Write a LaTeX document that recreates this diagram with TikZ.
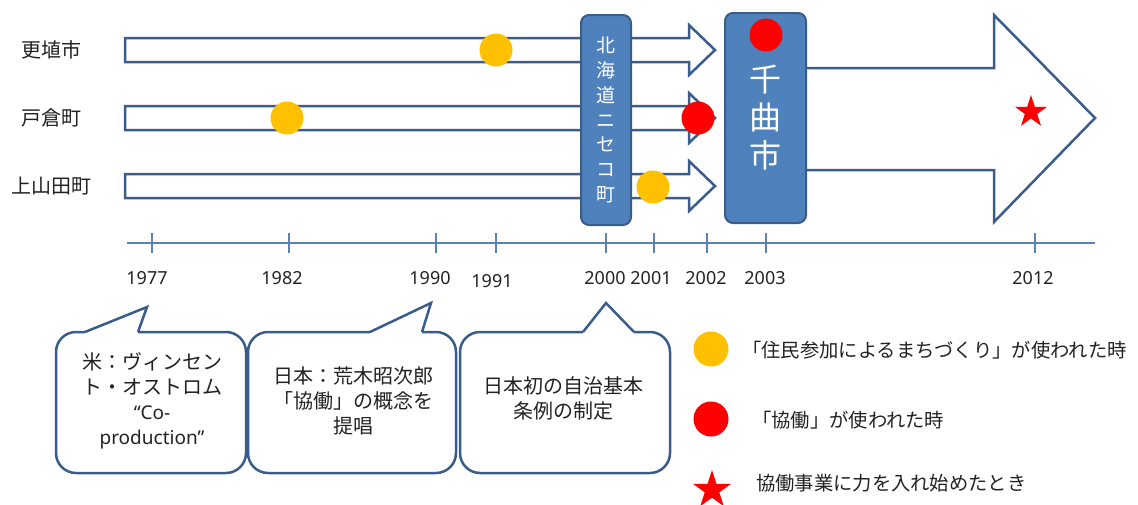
\documentclass[tikz,border=0pt]{standalone}
\usepackage{fontspec}
\setmainfont{Noto Sans CJK JP}
\newfontfamily\latinfont{Noto Sans}
\usetikzlibrary{shapes.geometric}
\definecolor{barline}{HTML}{3B5D8C}
\definecolor{boxfill}{HTML}{4F81BD}
\definecolor{boxline}{HTML}{385D8A}
\definecolor{axisblue}{HTML}{5A80B6}
\definecolor{dotyellow}{HTML}{FFC000}
\definecolor{txt}{HTML}{222222}
\begin{document}
\begin{tikzpicture}[x=1pt,y=-1pt,
  bararrow/.style={draw=barline, line width=2.5pt, fill=white, line join=miter},
  dot/.style={circle, minimum size=33pt, inner sep=0pt, draw=none},
  yeldot/.style={dot, fill=dotyellow},
  reddot/.style={dot, fill=red},
  redstar/.style={star, star points=5, star point ratio=2.618, fill=red, draw=none, inner sep=0pt},
  townbox/.style={draw=boxline, line width=2pt, fill=boxfill, rounded corners=8pt, text=white, align=center, inner sep=0pt},
  bubble/.style={draw=boxline, line width=2.5pt, fill=white, rounded corners=20pt},
  bubbletip/.style={draw=boxline, line width=2.5pt, line join=miter},
  jtext/.style={font=\fontsize{20}{25}\selectfont, text=txt, align=center, inner sep=0pt},
  yeartext/.style={font=\latinfont\fontsize{18}{20}\selectfont, text=txt, inner sep=0pt},
  axisline/.style={draw=axisblue, line width=1.4pt},
  tickline/.style={draw=axisblue, line width=1.3pt}
]
\useasboundingbox (0,0) rectangle (1138,504);

% row labels
\node[jtext] (lab1) at (51,50) {更埴市};
\node[jtext] (lab2) at (51,118) {戸倉町};
\node[jtext] (lab3) at (52,186) {上山田町};

% bar arrows
\draw[bararrow] (125,38) -- (689,38) -- (689,25) -- (715,50) -- (689,75) -- (689,62) -- (125,62) -- cycle;
\draw[bararrow] (125,106) -- (689,106) -- (689,93) -- (715,118) -- (689,143) -- (689,130) -- (125,130) -- cycle;
\draw[bararrow] (125,174) -- (689,174) -- (689,161) -- (715,186) -- (689,211) -- (689,198) -- (125,198) -- cycle;

% big arrow
\draw[bararrow] (780,68) -- (994,68) -- (994,15) -- (1095,118) -- (994,222) -- (994,170) -- (780,170) -- cycle;

% town boxes
\node[townbox, minimum width=50pt, minimum height=210pt,
      font=\fontsize{19}{24.8}\selectfont] (niseko) at (606,120)
      {北\\海\\道\\ニ\\セ\\コ\\町};
\node[townbox, minimum width=81pt, minimum height=210pt,
      font=\fontsize{32}{38}\selectfont] (chikuma) at (765.5,118)
      {千\\曲\\市};

% dots
\node[yeldot] (d1991) at (496,50) {};
\node[yeldot] (d1982) at (287,118) {};
\node[reddot] (d2002) at (698,118) {};
\node[yeldot] (d2001) at (653,187) {};
\node[reddot] (d2003) at (766,35) {};
\node[redstar, minimum size=34pt] (s2012) at (1031,112) {};

% axis
\coordinate (axL) at (127,243);
\coordinate (axR) at (1095,243);
\draw[axisline] (axL) -- (axR);
\foreach \x in {152,289,436,496,606,654,707,766,1035}
  \draw[tickline] (\x,233) -- (\x,253);

\node[yeartext] (y1977) at (147,278) {1977};
\node[yeartext] (y1982) at (282,278) {1982};
\node[yeartext] (y1990) at (430,278) {1990};
\node[yeartext] (y1991) at (492,281) {1991};
\node[yeartext] (y2000) at (605,278) {2000};
\node[yeartext] (y2001) at (651,278) {2001};
\node[yeartext] (y2002) at (706,278) {2002};
\node[yeartext] (y2003) at (765,278) {2003};
\node[yeartext] (y2012) at (1033,278) {2012};

% speech bubbles: rounded body, then the pointer over its top edge
\draw[bubble] (56,332) rectangle (246,473);
\fill[white] (85,332) -- (147,307) -- (138,332) -- (138,334) -- (85,334) -- cycle;
\draw[bubbletip] (85,332) -- (147,307) -- (138,332);

\draw[bubble] (248,332) rectangle (456,473);
\fill[white] (370,332) -- (431,303) -- (422,332) -- (422,334) -- (370,334) -- cycle;
\draw[bubbletip] (370,332) -- (431,303) -- (422,332);

\draw[bubble] (460,332) rectangle (670,473);
\fill[white] (583,332) -- (606,303) -- (634,332) -- (634,334) -- (583,334) -- cycle;
\draw[bubbletip] (583,332) -- (606,303) -- (634,332);

\node[jtext] (b1) at (152,401) {米：ヴィンセン\\ト・オストロム\\{\latinfont\fontsize{19}{25}\selectfont “Co-}\\{\latinfont\fontsize{19}{25}\selectfont production”}};
\node[jtext] (b2) at (353,401) {日本：荒木昭次郎\\「協働」の概念を\\提唱};
\node[jtext] (b3) at (563,398) {日本初の自治基本\\条例の制定};

% legend
\node[yeldot, minimum size=35pt] (ly) at (711,349) {};
\node[reddot, minimum size=35pt] (lr) at (711,419) {};
\node[redstar, minimum size=40pt] (ls) at (712,490) {};
\node[jtext, anchor=west, font=\fontsize{19.3}{24}\selectfont] (t1) at (742,350) {「住民参加によるまちづくり」が使われた時};
\node[jtext, anchor=west, font=\fontsize{19.3}{24}\selectfont] (t2) at (752,420) {「協働」が使われた時};
\node[jtext, anchor=west, font=\fontsize{19.3}{24}\selectfont] (t3) at (756,483) {協働事業に力を入れ始めたとき};
\end{tikzpicture}
\end{document}
